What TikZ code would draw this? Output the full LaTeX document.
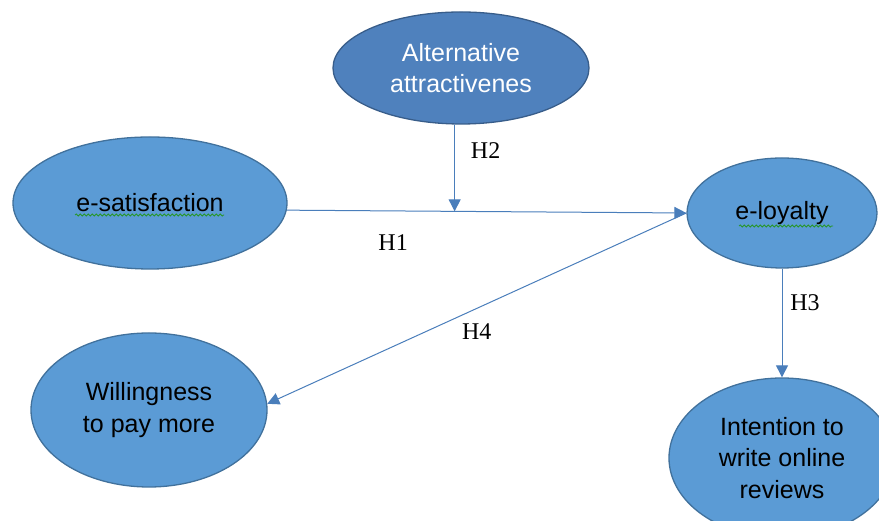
\documentclass[tikz,border=0pt]{standalone}
\usepackage{fontspec}
\setmainfont{Liberation Serif}
\setsansfont{Liberation Sans}
\usepackage{tikz}
\usetikzlibrary{shapes.geometric,arrows.meta,calc,decorations.pathmorphing}
\definecolor{altfill}{RGB}{79,129,189}
\definecolor{altdraw}{RGB}{56,93,138}
\definecolor{varfill}{RGB}{91,155,213}
\definecolor{vardraw}{RGB}{65,113,156}
\definecolor{linkblue}{RGB}{74,126,187}
\definecolor{spellgreen}{RGB}{40,150,40}
\tikzstyle{var}=[ellipse,draw=vardraw,fill=varfill,line width=1.3pt,inner sep=0pt,align=center,font=\sffamily\fontsize{25}{31.5}\selectfont]
\tikzstyle{hyp}=[font=\fontsize{24}{28}\selectfont,inner sep=0pt,text=black]
\tikzstyle{link}=[color=linkblue,line width=1pt,-{Triangle[length=12pt,width=12pt]}]
\tikzstyle{spell}=[spellgreen,line width=0.8pt,decorate,decoration={snake,segment length=4pt,amplitude=1pt}]

\begin{document}
\begin{tikzpicture}[x=1pt,y=1pt]
\useasboundingbox (0,0) rectangle (879,521);
\node[var,fill=altfill,draw=altdraw,text=white,minimum width=256pt,minimum height=112pt] (alt) at (461,453) {Alternative\\attractivenes};
\node[var,minimum width=274pt,minimum height=132pt] (sat) at (150,318) {e-satisfaction};
\node[var,minimum width=190pt,minimum height=110pt] (loy) at (782,308) {e-loyalty};
\node[var,minimum width=236pt,minimum height=154pt] (wil) at (149,111) {Willingness\\to pay more};
\node[var,minimum width=226pt,minimum height=160pt] (int) at (782,63) {Intention to\\write online\\reviews};
\coordinate (m) at ($(sat.-3)!0.42!(loy.west)$); % H2 meets H1 here
\path[link] (sat.-3)	edge	node[hyp,pos=0.266,yshift=-32pt] (h1) {H1}	(loy.west)
		(alt.south -| m)	edge	node[hyp,pos=0.3,xshift=31pt] (h2) {H2}	(m)
		(loy)	edge	node[hyp,pos=0.31,xshift=23pt] (h3) {H3}	(int)
		(loy.west)	edge	node[hyp,pos=0.5,yshift=-23pt] (h4) {H4}	(wil.3);
\draw[spell] ([xshift=-75pt,yshift=-12pt]sat.center) -- ++(149,0);
\draw[spell] ([xshift=-43pt,yshift=-13pt]loy.center) -- ++(94,0);
\end{tikzpicture}
\end{document}
